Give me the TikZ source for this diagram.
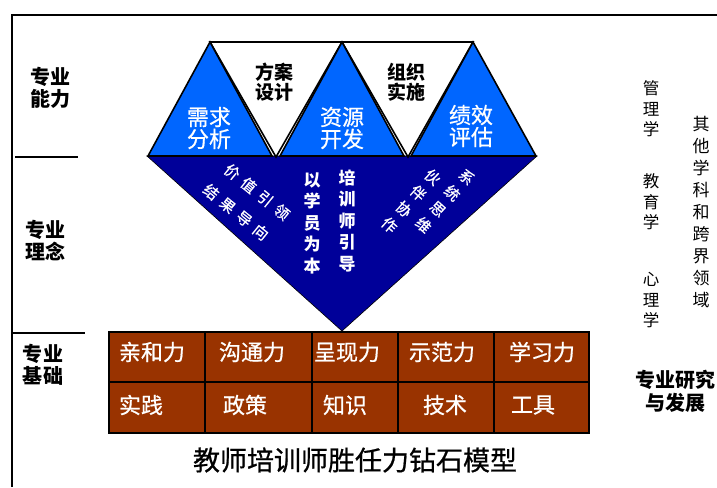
\documentclass[tikz,border=0pt]{standalone}
\usepackage{fontspec}
\setmainfont{Noto Sans CJK SC}
\newfontfamily\semib[FakeBold=0.7]{Noto Sans CJK SC}
\definecolor{blueT}{RGB}{0,102,255}
\definecolor{navyT}{RGB}{0,0,153}
\definecolor{brownT}{RGB}{153,51,0}
\tikzset{
  lbl/.style={inner sep=0pt, align=center, font=\bfseries\fontsize{20}{22}\selectfont},
  tri/.style={draw=black, line width=1.6pt, line join=miter},
  wtxt/.style={inner sep=0pt, align=center, text=white},
  cell/.style={inner sep=0pt, text=white, font=\semib\fontsize{22}{24}\selectfont},
  side/.style={inner sep=0pt, align=center, font=\fontsize{16.5}{20.5}\selectfont},
}
\begin{document}
\begin{tikzpicture}[x=1pt,y=-1pt]
\useasboundingbox (0,0) rectangle (717,487);
\fill[white] (0,0) rectangle (717,487);
% frame
\draw[line width=2pt] (12,487) -- (12,15) -- (717,15);
\draw[line width=1.2pt] (15,157) -- (78,157);
\draw[line width=1.2pt] (12,333) -- (85,333);
% left labels
\node[lbl] (l1) at (50,88) {专业\\能力};
\node[lbl] (l2) at (45,241) {专业\\理念};
\node[lbl] (l3) at (43,365) {专业\\基础};
% navy inverted triangle
\fill[navyT, draw=black, line width=0.6pt] (147,156) -- (537,156) -- (342,331) -- cycle;
% white inverted triangles
\draw[tri, fill=white] (210,42) -- (342,42) -- (276,157) -- cycle;
\draw[tri, fill=white] (342,42) -- (473,42) -- (408,157) -- cycle;
% blue triangles
\draw[tri, fill=blueT] (210,42) -- (148,156) -- (272,156) -- cycle;
\draw[tri, fill=blueT] (342,42) -- (280,156) -- (404,156) -- cycle;
\draw[tri, fill=blueT] (473,42) -- (411,156) -- (536,156) -- cycle;
% triangle texts
\node[wtxt, font=\semib\fontsize{22}{22}\selectfont] (t1) at (209,128) {需求\\分析};
\node[wtxt, font=\semib\fontsize{22}{22}\selectfont] (t2) at (342,128) {资源\\开发};
\node[wtxt, font=\semib\fontsize{22}{22}\selectfont] (t3) at (471,126) {绩效\\评估};
\node[inner sep=0pt, align=center, font=\bfseries\fontsize{19}{20}\selectfont] (w1) at (274,82) {方案\\设计};
\node[inner sep=0pt, align=center, font=\bfseries\fontsize{19}{20}\selectfont] (w2) at (406,82) {组织\\实施};
% navy texts
\node[wtxt, font=\bfseries\fontsize{17}{21.5}\selectfont] (m1) at (312,223) {以\\学\\员\\为\\本};
\node[wtxt, font=\bfseries\fontsize{17}{21.5}\selectfont] (m2) at (347,221) {培\\训\\师\\引\\导};
\node[wtxt, rotate=-39, font=\semib\fontsize{15}{16}\selectfont] (d1) at (257,192) {价\hspace{6.3pt}值\hspace{6.3pt}引\hspace{6.3pt}领};
\node[wtxt, rotate=-39, font=\semib\fontsize{15}{16}\selectfont] (d2) at (236,212) {结\hspace{6.3pt}果\hspace{6.3pt}导\hspace{6.3pt}向};
\node[wtxt, rotate=-42, font=\semib\fontsize{15}{21.5}\selectfont] (d3) at (445,201) {系\\统\\思\\维};
\node[wtxt, rotate=-42, font=\semib\fontsize{15}{21.5}\selectfont] (d4) at (411,201) {伙\\伴\\协\\作};
% brown box
\fill[brownT] (109,332) rectangle (589,433);
\draw[line width=1.4pt] (109,382) -- (589,382)
  (205,332) -- (205,433) (312,332) -- (312,433) (398,332) -- (398,433) (494,332) -- (494,433);
\draw[line width=2.4pt] (109,332) rectangle (589,433);
\node[cell] (c11) at (152,352) {亲和力};
\node[cell] (c12) at (252,352) {沟通力};
\node[cell] (c13) at (347,352) {呈现力};
\node[cell] (c14) at (442,352) {示范力};
\node[cell] (c15) at (542,352) {学习力};
\node[cell] (c21) at (141,405) {实践};
\node[cell] (c22) at (245,405) {政策};
\node[cell] (c23) at (345,405) {知识};
\node[cell] (c24) at (445,405) {技术};
\node[cell] (c25) at (533,405) {工具};
% title
\node[inner sep=0pt, font=\semib\fontsize{27}{30}\selectfont] (title) at (355,460) {教师培训师胜任力钻石模型};
% right side
\node[side] (s1) at (651,109) {管\\理\\学};
\node[side] (s2) at (651,202) {教\\育\\学};
\node[side] (s3) at (651,300) {心\\理\\学};
\node[side, font=\fontsize{17}{21.9}\selectfont] (s4) at (701,212) {其\\他\\学\\科\\和\\跨\\界\\领\\域};
\node[lbl, font=\bfseries\fontsize{20}{23}\selectfont] (s5) at (675,391) {专业研究\\与发展};
\end{tikzpicture}
\end{document}
